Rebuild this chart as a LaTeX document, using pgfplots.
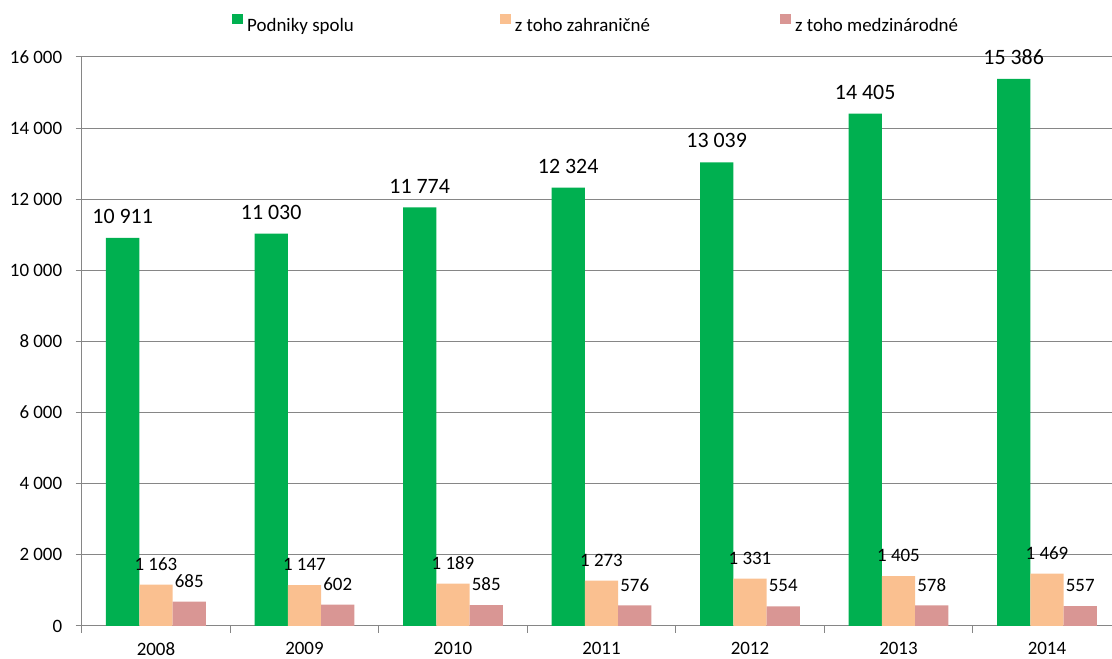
\documentclass[border=0pt]{standalone}
\usepackage{fontspec}
\setmainfont{Carlito}
\usepackage{pgfplots}
\pgfplotsset{compat=1.18}
\definecolor{barGreen}{HTML}{00B050}
\definecolor{barPeach}{HTML}{FAC090}
\definecolor{barRose}{HTML}{D99694}
\definecolor{gridGray}{HTML}{868686}

\begin{document}
\begin{tikzpicture}
\begin{axis}[
    name=main,
    at={(0,0)}, anchor=south west,
    scale only axis,
    width=1030.3bp, height=569bp,
    xmin=-0.5, xmax=6.438,
    ymin=0, ymax=16000,
    enlargelimits=false,
    ybar=0pt,
    bar width=33.3bp,
    axis x line*=bottom,
    axis y line*=left,
    axis line style={gridGray, line width=1bp},
    ymajorgrids=true,
    grid style={gridGray, line width=1bp},
    ytick={0,2000,...,16000},
    scaled y ticks=false,
    xtick={0,...,6},
    xticklabels={2008,2009,2010,2011,2012,2013,2014},
    minor xtick={-0.5,0.5,...,5.5},
    major x tick style={draw=none},
    tick align=outside,
    major tick length=6bp,
    minor tick length=7bp,
    tick style={gridGray, line width=1bp},
    tick label style={font=\fontsize{19}{23}\selectfont, text=black},
    xticklabel style={inner sep=0.5bp, yshift=-9.5bp},
    yticklabel style={xshift=-10bp},
    /pgf/number format/assume math mode=true,
    /pgf/number format/1000 sep={\ },
    every node near coord/.append style={inner sep=0pt, yshift=14bp, text=black,
        font=\fontsize{19}{23}\selectfont},
    clip=false,
    legend columns=3,
    legend style={
        at={(axis description cs:0.1459,1.0593)}, anchor=west,
        draw=none, fill=none, inner sep=0pt,
        font=\fontsize{19}{23}\selectfont,
        nodes={inner sep=0pt},
        /tikz/every odd column/.style={column sep=4bp},
        /tikz/column 2/.style={column sep=146bp},
        /tikz/column 4/.style={column sep=130bp},
    },
    legend image code/.code={\fill[#1] (0bp,1.5bp) rectangle (11bp,12bp);},
]

% Podniky spolu
\addplot[fill=barGreen, draw=none, nodes near coords,
    every node near coord/.append style={font=\fontsize{22}{26}\selectfont}]
    coordinates {(0,10911) (1,11030) (2,11774) (3,12324) (4,13039) (5,14405) (6,15386)};

% z toho zahranicne
\addplot[fill=barPeach, draw=none, nodes near coords]
    coordinates {(0,1163) (1,1147) (2,1189) (3,1273) (4,1331) (5,1405) (6,1469)};

% z toho medzinarodne
\addplot[fill=barRose, draw=none, nodes near coords]
    coordinates {(0,685) (1,602) (2,585) (3,576) (4,554) (5,578) (6,557)};

\legend{Podniky spolu, z toho zahraničné, z toho medzinárodné}
\end{axis}
\pgfresetboundingbox
\path ([shift={(-81.7bp,-33bp)}]main.south west) rectangle ([shift={(0bp,57bp)}]main.north east);
\end{tikzpicture}
\end{document}
